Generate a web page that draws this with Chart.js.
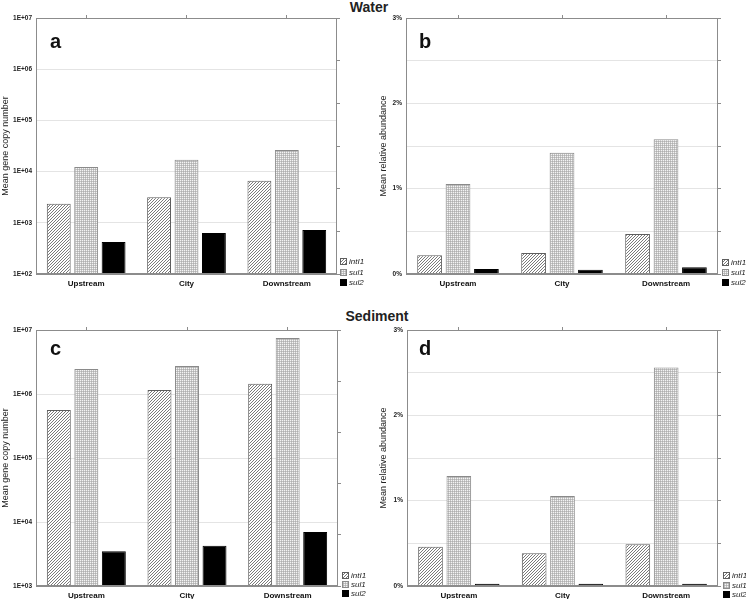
<!DOCTYPE html>
<html>
<head>
<meta charset="utf-8">
<script src="https://cdn.jsdelivr.net/npm/chart.js@4.4.1/dist/chart.umd.min.js"></script>
<style>
  body { margin: 0; background: #fff; width: 746px; height: 599px; position: relative; overflow: hidden;
         font-family: "Liberation Sans", Arial, sans-serif; }
  canvas { position: absolute; }
  .head { position: absolute; font-weight: bold; font-size: 14px; color: #222; line-height: 14px;
          transform: translateX(-50%); white-space: nowrap; }
</style>
</head>
<body>
<div class="head" style="left:369px; top:0px;">Water</div>
<div class="head" style="left:377px; top:309px;">Sediment</div>
<canvas id="pa" width="373" height="300" style="left:0; top:0;"></canvas>
<canvas id="pb" width="373" height="300" style="left:373px; top:0;"></canvas>
<canvas id="pc" width="373" height="312" style="left:0; top:300px;"></canvas>
<canvas id="pd" width="373" height="312" style="left:373px; top:300px;"></canvas>
<script>
var sites = ['Upstream', 'City', 'Downstream'];
var genes = ['intI1', 'sul1', 'sul2'];

// water - mean gene copy number
var waterCopyIntI1 = [2350, 3160, 6600];
var waterCopySul1 = [12300, 17000, 26500];
var waterCopySul2 = [420, 630, 720];
// water - mean relative abundance (%)
var waterRelIntI1 = [0.22, 0.245, 0.47];
var waterRelSul1 = [1.055, 1.42, 1.58];
var waterRelSul2 = [0.06, 0.05, 0.08];
// sediment - mean gene copy number
var sedCopyIntI1 = [560000, 1150000, 1440000];
var sedCopySul1 = [2450000, 2750000, 7500000];
var sedCopySul2 = [3500, 4250, 7000];
// sediment - mean relative abundance (%)
var sedRelIntI1 = [0.46, 0.385, 0.49];
var sedRelSul1 = [1.29, 1.055, 2.56];
var sedRelSul2 = [0.025, 0.025, 0.025];

var waterLogTicks = [1e2, 1e3, 1e4, 1e5, 1e6, 1e7];
var sedLogTicks = [1e3, 1e4, 1e5, 1e6, 1e7];
var pctTicks = [0, 0.5, 1, 1.5, 2, 2.5, 3];

var FONT = '"Liberation Sans", Arial, sans-serif';
var frameColor = '#8c8c8c';
var gridColor = '#e4e4e4';
Chart.defaults.font.family = FONT;

function pixelTile(size, bg, px) {
  var c = document.createElement('canvas');
  c.width = c.height = size;
  var g = c.getContext('2d');
  g.fillStyle = bg;
  g.fillRect(0, 0, size, size);
  px.forEach(function (p) {
    g.fillStyle = p[2];
    g.fillRect(p[0], p[1], 1, 1);
  });
  return g.createPattern(c, 'repeat');
}

var hatchFill = pixelTile(3, '#ffffff', [[2, 0, '#7a7a7a'], [1, 1, '#7a7a7a'], [0, 2, '#7a7a7a']]);
var dotFill = pixelTile(2, '#c4c4c4', [[0, 0, '#f4f4f4'], [1, 1, '#b0b0b0']]);

var fills = [hatchFill, dotFill, '#000000'];
var edges = ['#5e5e5e', '#8a8a8a', '#000000'];

// draws the box around the plot
var framePlugin = {
  id: 'frame',
  afterDraw: function (chart) {
    var a = chart.chartArea, ctx = chart.ctx;
    ctx.save();
    ctx.strokeStyle = frameColor;
    ctx.lineWidth = 1;
    ctx.strokeRect(Math.round(a.left) + 0.5, Math.round(a.top) + 0.5,
      Math.round(a.right - a.left) - 1, Math.round(a.bottom - a.top) - 1);
    ctx.restore();
  }
};

// panel letter a/b/c/d
var tagPlugin = {
  id: 'panelTag',
  afterDraw: function (chart, args, o) {
    var ctx = chart.ctx;
    ctx.save();
    ctx.fillStyle = '#111';
    ctx.font = 'bold 20px ' + FONT;
    ctx.textBaseline = 'alphabetic';
    ctx.fillText(o.text, o.x, o.y);
    ctx.restore();
  }
};

// small key at bottom right
var keyPlugin = {
  id: 'geneKey',
  afterDraw: function (chart, args, o) {
    var ctx = chart.ctx;
    ctx.save();
    chart.data.datasets.forEach(function (d, i) {
      var y = Math.round(o.y + i * o.gap);
      ctx.fillStyle = d.backgroundColor;
      ctx.fillRect(o.x, y - 4, 7, 7);
      ctx.strokeStyle = d.borderColor;
      ctx.lineWidth = 1;
      ctx.strokeRect(o.x + 0.5, y - 3.5, 6, 6);
      ctx.fillStyle = '#222';
      ctx.font = 'italic 8px ' + FONT;
      ctx.textBaseline = 'middle';
      ctx.fillText(d.label, o.x + 9, y);
    });
    ctx.restore();
  }
};

Chart.register(framePlugin, tagPlugin, keyPlugin);

function panel(id, cfg) {
  var datasets = cfg.values.map(function (vals, i) {
    return {
      label: genes[i],
      data: vals,
      backgroundColor: fills[i],
      borderColor: edges[i],
      borderWidth: 1,
      categoryPercentage: 0.82,
      barPercentage: 0.87
    };
  });

  var y = {
    type: cfg.log ? 'logarithmic' : 'linear',
    min: cfg.ticks[0],
    max: cfg.ticks[cfg.ticks.length - 1],
    afterBuildTicks: function (s) {
      s.ticks = cfg.ticks.map(function (v) { return { value: v }; });
    },
    afterFit: function (s) { s.width = cfg.yw; },
    grid: { color: gridColor, drawTicks: false },
    border: { color: frameColor },
    ticks: {
      padding: 4,
      color: '#222',
      font: { size: 6.5, weight: 'bold' },
      callback: function (v) {
        if (cfg.log) return '1E+0' + Math.round(Math.log10(v));
        return (Math.abs(v - Math.round(v)) < 1e-9) ? Math.round(v) + '%' : '';
      }
    },
    title: {
      display: true,
      text: cfg.yTitle,
      color: '#222',
      font: { size: 9 },
      padding: { top: cfg.titlePad, bottom: 0 }
    }
  };

  return new Chart(document.getElementById(id), {
    type: 'bar',
    data: { labels: sites, datasets: datasets },
    options: {
      responsive: false,
      animation: false,
      layout: { padding: { left: 0, top: cfg.top, right: cfg.right, bottom: 0 } },
      plugins: {
        legend: { display: false },
        tooltip: { enabled: false },
        panelTag: { text: cfg.tag, x: cfg.tagX, y: cfg.tagY },
        geneKey: { x: cfg.keyX, y: cfg.keyY, gap: cfg.keyGap }
      },
      scales: {
        x: {
          grid: { display: false, drawTicks: false, tickLength: 0 },
          border: { color: frameColor },
          afterFit: function (s) { s.height = cfg.xh; },
          ticks: { padding: 5, color: '#111', maxRotation: 0, autoSkip: false,
                   font: { size: 8, weight: 'bold' } }
        },
        xTop: {
          type: 'category',
          position: 'top',
          labels: sites,
          offset: true,
          afterFit: function (s) { s.height = 0; },
          ticks: { display: false },
          border: { display: false },
          grid: { drawOnChartArea: false, offset: false, tickLength: 3, color: frameColor }
        },
        y: y,
        yRight: {
          type: 'linear',
          position: 'right',
          min: 0,
          max: cfg.rightSteps,
          afterFit: function (s) { s.width = 0; },
          ticks: { display: false, stepSize: 1 },
          border: { display: false },
          grid: { drawOnChartArea: false, tickLength: 3, color: frameColor }
        }
      }
    }
  });
}

panel('pa', {
  log: true, ticks: waterLogTicks, yTitle: 'Mean gene copy number',
  values: [waterCopyIntI1, waterCopySul1, waterCopySul2],
  top: 18, right: 36, yw: 36, xh: 26, titlePad: 0, rightSteps: 6,
  tag: 'a', tagX: 50, tagY: 48, keyX: 340, keyY: 262, keyGap: 10.5
});

panel('pb', {
  log: false, ticks: pctTicks, yTitle: 'Mean relative abundance',
  values: [waterRelIntI1, waterRelSul1, waterRelSul2],
  top: 18, right: 28, yw: 33, xh: 26, titlePad: 5.5, rightSteps: 6,
  tag: 'b', tagX: 46, tagY: 48, keyX: 349, keyY: 263, keyGap: 10
});

panel('pc', {
  log: true, ticks: sedLogTicks, yTitle: 'Mean gene copy number',
  values: [sedCopyIntI1, sedCopySul1, sedCopySul2],
  top: 30, right: 35, yw: 36, xh: 26, titlePad: 0, rightSteps: 5,
  tag: 'c', tagX: 50, tagY: 55, keyX: 342, keyY: 276, keyGap: 9
});

panel('pd', {
  log: false, ticks: pctTicks, yTitle: 'Mean relative abundance',
  values: [sedRelIntI1, sedRelSul1, sedRelSul2],
  top: 30, right: 28, yw: 34, xh: 26, titlePad: 5.5, rightSteps: 6,
  tag: 'd', tagX: 46, tagY: 55, keyX: 350, keyY: 276, keyGap: 9.5
});
</script>
</body>
</html>
